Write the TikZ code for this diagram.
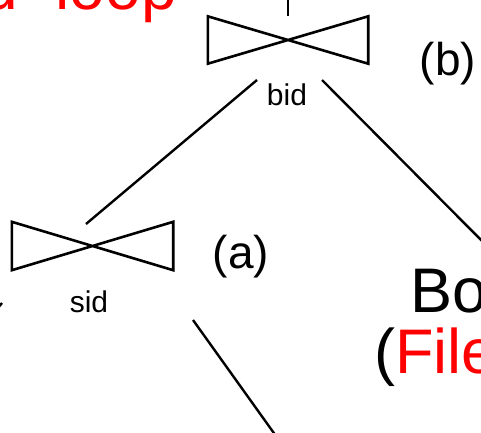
\documentclass[tikz,border=0pt]{standalone}
\usepackage{fontspec}
\setmainfont{Liberation Sans}
\begin{document}
\begin{tikzpicture}[x=1pt,y=-1pt,
  edge/.style={line width=2.4pt},
  tie/.style={line width=2.6pt, line join=miter},
  lbl/.style={inner sep=0pt, font=\fontsize{30}{30}\selectfont},
  tag/.style={inner sep=0pt, font=\fontsize{46}{46}\selectfont},
  big/.style={inner sep=0pt, font=\fontsize{63}{61}\selectfont},
  joinbox/.style={inner sep=0pt, minimum width=160pt, minimum height=47pt}]
\useasboundingbox (0,0) rectangle (481,432);
\clip (0,0) rectangle (481,432);
% top join (b)
\node[joinbox] (jb) at (288,40) {};
\draw[tie] (jb.north west) -- (jb.south east) -- (jb.north east) -- (jb.south west) -- cycle;
\coordinate (topin) at (288,-5);
\draw[edge] (topin) -- (jb.north);
\node[lbl, anchor=base] (bid) at (287,105) {bid};
\node[tag, anchor=base] (b) at (448,75) {(b)};
% lower join (a)
\node[joinbox, minimum width=161pt, minimum height=48pt] (ja) at (92.5,246) {};
\draw[tie] (ja.north west) -- (ja.south east) -- (ja.north east) -- (ja.south west) -- cycle;
\node[lbl, anchor=base] (sid) at (89,312) {sid};
\node[tag, anchor=base] (a) at (241,268) {(a)};
% connectors
\coordinate (bidL) at (257,80);
\coordinate (bidR) at (322,80);
\coordinate (jaTop) at (86,224);
\coordinate (boatsTop) at (490,249);
\draw[edge] (bidL) -- (jaTop);
\draw[edge] (bidR) -- (boatsTop);
\coordinate (sidR) at (193,320);
\coordinate (downR) at (276,436);
\draw[edge] (sidR) -- (downR);
\coordinate (sidL) at (2,303);
\coordinate (downL) at (-12,320);
\draw[edge] (sidL) -- (downL);
% Boats (File scan)
\node[big, anchor=base west] (boats) at (410,312) {Boats};
\node[big, anchor=base west] (scan) at (374,373) {(\textcolor{red}{File scan})};
% title
\node[big, font=\fontsize{64}{64}\selectfont, anchor=base east, text=red] (title) at (177,9) {Nested\hspace{20pt} loop};
\end{tikzpicture}
\end{document}
